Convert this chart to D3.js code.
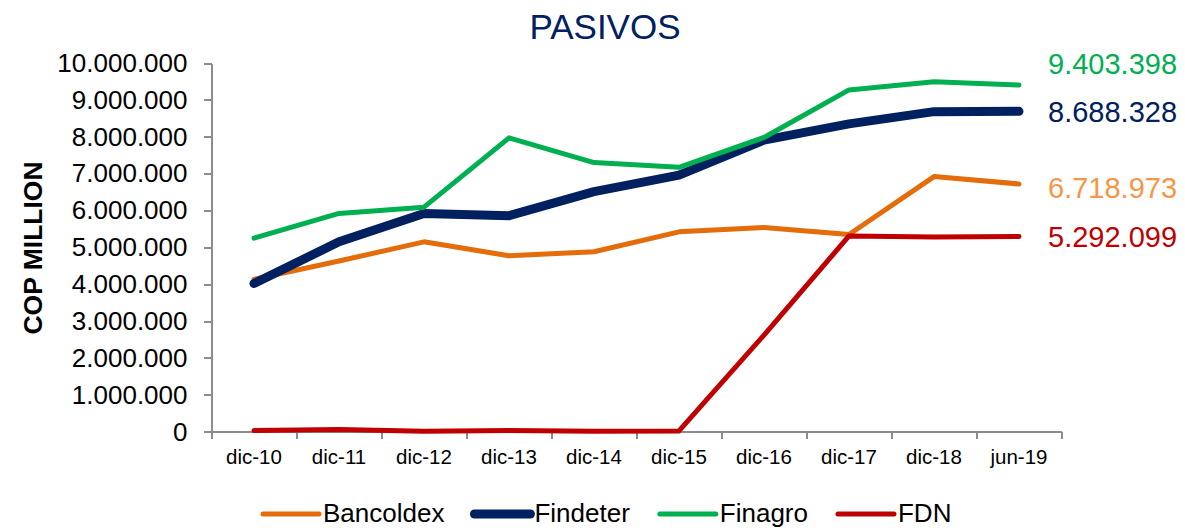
<!DOCTYPE html>
<html>

<head>
    <meta charset="utf-8">
    <title>Pasivos</title>
    <script src="https://d3js.org/d3.v7.min.js"></script>
    <style>
        body {
            margin: 0;
            background: #fff;
        }

        svg {
            font-family: "Liberation Sans", Arial, sans-serif;
        }

        .axis path, .axis line {
            fill: none;
            stroke: #8c8c8c;
            stroke-width: 2;
            shape-rendering: crispEdges;
        }

        .axis text {
            fill: #000;
        }
    </style>
</head>

<body>
    <script>

    // data (COP million)
    var categories = ["dic-10", "dic-11", "dic-12", "dic-13", "dic-14", "dic-15", "dic-16", "dic-17", "dic-18", "jun-19"];
    var bancoldex = [4130000, 4630000, 5150000, 4770000, 4880000, 5420000, 5540000, 5350000, 6920000, 6718973];
    var findeter  = [4020000, 5150000, 5920000, 5860000, 6510000, 6960000, 7910000, 8350000, 8680000, 8688328];
    var finagro   = [5250000, 5920000, 6090000, 7970000, 7300000, 7170000, 7980000, 9270000, 9490000, 9403398];
    var fdn       = [30000, 60000, 10000, 30000, 10000, 20000, 2620000, 5310000, 5280000, 5292099];
    var seriesNames = ["Bancoldex", "Findeter", "Finagro", "FDN"];
    var yTicks = [0, 1000000, 2000000, 3000000, 4000000, 5000000, 6000000, 7000000, 8000000, 9000000, 10000000];

    var outerWidth = 1185;
    var outerHeight = 528;
    var plotLeft = 211.5, plotRight = 1061.5;
    var plotTop = 63, plotBottom = 431.7;

    var lineColors  = ["#e46c0a", "#002060", "#00b050", "#c00000"];
    var labelColors = ["#f79646", "#002060", "#00b050", "#c00000"];
    var lineWidths  = [5, 9, 5, 5];
    var labelShift  = [4, 0, -21, 0];   // nudges so the end labels don't collide

    var locale = d3.formatLocale({ decimal: ",", thousands: ".", grouping: [3], currency: ["$", ""] });
    var fmt = locale.format(",d");

    var series = [bancoldex, findeter, finagro, fdn].map(function (vals, i) {
        return {
            name: seriesNames[i],
            values: vals.map(function (v, j) { return { cat: categories[j], v: v }; })
        };
    });

    var x = d3.scaleBand()
        .domain(categories)
        .range([plotLeft, plotRight]);
    var y = d3.scaleLinear()
        .domain([0, 10000000])
        .range([plotBottom, plotTop]);

    var svg = d3.select("body").append("svg")
        .attr("width", outerWidth)
        .attr("height", outerHeight);

    // title
    svg.append("text")
        .attr("x", 605)
        .attr("y", 39)
        .attr("text-anchor", "middle")
        .attr("font-size", "35px")
        .style("fill", "#002060")
        .text("PASIVOS");

    // y axis
    var yAxis = svg.append("g")
        .attr("class", "axis")
        .attr("transform", "translate(" + plotLeft + ",0)")
        .call(d3.axisLeft(y).tickValues(yTicks).tickSize(8).tickSizeOuter(0).tickPadding(16).tickFormat(fmt));
    yAxis.selectAll("text")
        .attr("font-size", "26px")
        .attr("font-family", null);

    svg.append("text")
        .attr("transform", "translate(41.7,248)rotate(-90)")
        .attr("text-anchor", "middle")
        .attr("font-size", "26.5px")
        .attr("font-weight", "bold")
        .style("fill", "#000")
        .text("COP MILLION");

    // x axis, labels centred in each band
    var xAxis = svg.append("g")
        .attr("class", "axis")
        .attr("transform", "translate(0," + plotBottom + ")")
        .call(d3.axisBottom(x).tickSize(0).tickSizeOuter(0).tickPadding(18));
    xAxis.selectAll("text")
        .attr("font-size", "20.5px")
        .attr("font-family", null);

    // tick marks sit on the band edges
    var edges = categories.map(function (c) { return x(c); }).concat([x.range()[1]]);
    xAxis.selectAll("line.edge")
        .data(edges)
        .enter().append("line")
        .attr("class", "edge")
        .attr("x1", function (d) { return d; })
        .attr("x2", function (d) { return d; })
        .attr("y1", 0)
        .attr("y2", 7);

    var line = d3.line()
        .x(function (d) { return x(d.cat) + x.bandwidth() / 2; })
        .y(function (d) { return y(d.v); });

    svg.selectAll("path.series")
        .data(series)
        .enter().append("path")
        .attr("class", "series")
        .attr("d", function (d) { return line(d.values); })
        .style("fill", "none")
        .style("stroke", function (d, i) { return lineColors[i]; })
        .style("stroke-width", function (d, i) { return lineWidths[i]; })
        .style("stroke-linecap", "round")
        .style("stroke-linejoin", "round");

    // last value labels
    svg.selectAll("text.endlabel")
        .data(series)
        .enter().append("text")
        .attr("class", "endlabel")
        .attr("x", 1048)
        .attr("y", function (d, i) { return y(d.values[d.values.length - 1].v) + labelShift[i]; })
        .attr("dy", "0.35em")
        .attr("font-size", "29px")
        .style("fill", function (d, i) { return labelColors[i]; })
        .text(function (d) { return fmt(d.values[d.values.length - 1].v); });

    // legend (pulled up a little so descenders stay inside the frame)
    var legend = svg.append("g");
    var lx = 263;
    series.forEach(function (s, i) {
        legend.append("line")
            .attr("x1", lx)
            .attr("x2", lx + 56)
            .attr("y1", 514)
            .attr("y2", 514)
            .style("stroke", lineColors[i])
            .style("stroke-width", lineWidths[i])
            .style("stroke-linecap", "round");
        var t = legend.append("text")
            .attr("x", lx + 60)
            .attr("y", 522)
            .attr("font-size", "26px")
            .style("fill", "#000")
            .text(s.name);
        lx += 60 + t.node().getComputedTextLength() + 30;
    });

    </script>
</body>

</html>
